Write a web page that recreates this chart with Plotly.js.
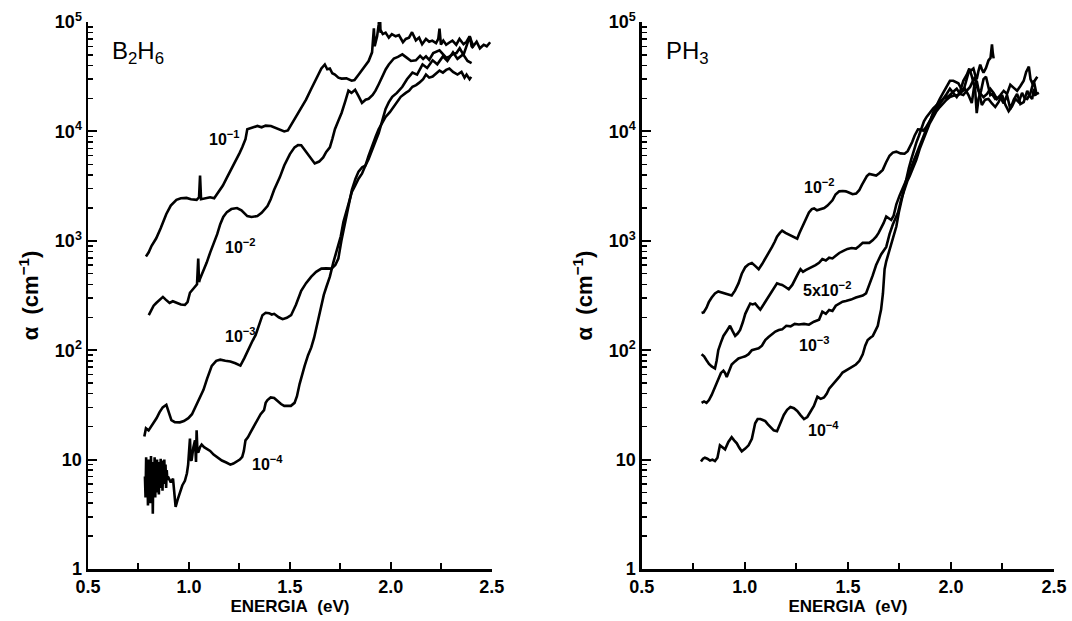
<!DOCTYPE html>
<html><head><meta charset="utf-8">
<script src="https://cdn.plot.ly/plotly-3.0.1.min.js"></script>
<style>html,body{margin:0;padding:0;background:#fff}#chart{width:1072px;height:621px}</style>
</head><body><div id="chart"></div>
<script>
// ---------- B2H6 panel ----------
const b2h6_labels = ['10<sup>−1</sup>', '10<sup>−2</sup>', '10<sup>−3</sup>', '10<sup>−4</sup>'];
const b2h6_labelE = [1.178, 1.255, 1.254, 1.389];
const b2h6_labelA = [8700, 890, 137, 9.4];

const b2h6_E1 = [
0.787,0.800,0.815,0.838,0.860,0.888,0.910,0.938,0.960,0.988,
1.010,1.038,1.050,1.055,1.060,1.080,1.105,1.125,1.147,1.168,
1.188,1.210,1.230,1.250,1.264,1.280,1.289,1.310,1.339,1.360,
1.380,1.406,1.430,1.450,1.472,1.490,1.506,1.530,1.556,1.580,
1.606,1.630,1.656,1.673,1.685,1.698,1.710,1.723,1.740,1.756,
1.780,1.806,1.820,1.840,1.855,1.873,1.890,1.907,1.912,1.916,
1.920,1.932,1.940,1.945,1.949,1.953,1.960,1.974,1.990,2.005,
2.024,2.040,2.060,2.074,2.090,2.105,2.124,2.140,2.155,2.174,
2.190,2.205,2.224,2.235,2.241,2.248,2.260,2.274,2.290,2.305,
2.324,2.340,2.360,2.375,2.390,2.408,2.425,2.441,2.460,2.475,
2.492];
const b2h6_A1 = [
719,780,900,1054,1300,1757,2100,2366,2450,2468,
2400,2366,2500,3944,2400,2450,2500,2450,2800,3200,
3780,4500,5310,6300,7150,8500,10480,10800,11220,10900,
11300,11220,10800,10300,10000,10200,11400,13500,16040,19500,
24560,30000,37600,40900,37000,37600,34000,33100,31000,30400,
30500,29100,29500,33000,36000,39200,44000,52800,70000,87500,
60000,74000,95000,129000,80000,82000,77600,80000,72000,77600,
74000,76000,65300,70000,72000,80700,68000,72000,62700,70000,
66000,67600,64000,70000,87000,62000,67600,62000,65000,67600,
62000,70000,62700,66000,74000,60000,66000,57500,62000,60000,
65300];

const b2h6_E2 = [
0.801,0.815,0.825,0.838,0.850,0.871,0.885,0.904,0.920,0.938,
0.960,0.980,0.993,1.005,1.018,1.030,1.040,1.046,1.050,1.055,
1.070,1.088,1.105,1.122,1.140,1.155,1.170,1.188,1.210,1.238,
1.260,1.289,1.310,1.339,1.360,1.389,1.405,1.422,1.450,1.472,
1.500,1.523,1.540,1.556,1.575,1.590,1.610,1.623,1.645,1.665,
1.680,1.698,1.710,1.723,1.740,1.756,1.775,1.790,1.805,1.823,
1.840,1.857,1.875,1.890,1.910,1.924,1.940,1.957,1.975,1.990,
2.005,2.015,2.035,2.057,2.080,2.100,2.124,2.145,2.160,2.174,
2.190,2.210,2.241,2.260,2.275,2.291,2.310,2.325,2.341,2.360,
2.375,2.391,2.400,2.408];
const b2h6_A2 = [
209,240,255,270,285,307,290,270,280,270,
262,259,275,335,360,380,400,689,420,450,
520,632,780,927,1150,1420,1650,1830,1950,1995,
1900,1683,1650,1683,1800,2080,2400,2925,3800,4875,
6200,7150,7500,7460,6700,6030,5500,5090,5300,5780,
6500,7150,8500,10470,12500,14730,19000,23550,22500,24000,
21000,18200,19500,19870,21500,23550,27000,31700,37000,40900,
44000,46400,48000,50600,47000,44000,44600,49000,46000,48500,
45000,52000,55000,50000,47000,48500,51000,52000,57500,50000,
62000,74000,60000,57500];

const b2h6_E3 = [
0.779,0.787,0.800,0.821,0.840,0.854,0.870,0.888,0.898,0.913,
0.930,0.955,0.975,0.997,1.015,1.030,1.050,1.072,1.090,1.113,
1.135,1.155,1.180,1.205,1.230,1.255,1.275,1.297,1.315,1.330,
1.345,1.364,1.380,1.397,1.410,1.422,1.445,1.464,1.485,1.506,
1.530,1.556,1.580,1.606,1.630,1.656,1.680,1.706,1.725,1.740,
1.755,1.773,1.790,1.807,1.825,1.840,1.858,1.874,1.890,1.907,
1.925,1.940,1.957,1.974,1.990,2.007,2.030,2.057,2.080,2.107,
2.130,2.157,2.180,2.207,2.230,2.258,2.280,2.308,2.330,2.358,
2.380,2.400];
const b2h6_A3 = [
16.3,19.3,18.5,21,24,27,30,31.7,28,22.9,
22,21.9,22.5,23.9,26,29.6,35,43.4,55,72,
80,82,80,78.7,76,72.3,85,106,122,137,
165,209,220,218,212,215,200,192,198,209,
260,349,410,470,520,557,560,557,600,689,
1000,1482,2100,2925,3700,4290,4700,4875,5600,6850,
8200,9640,12500,16050,18500,20700,22500,25600,30000,34500,
33000,40900,38000,44600,41000,48500,44000,52800,46000,50600,
44000,42000];

const b2h6_E4 = [
0.782,0.785,0.788,0.791,0.794,0.797,0.800,0.803,0.806,0.809,
0.812,0.815,0.818,0.821,0.824,0.827,0.830,0.833,0.836,0.839,
0.842,0.845,0.848,0.851,0.854,0.857,0.860,0.863,0.866,0.869,
0.872,0.875,0.878,0.881,0.884,0.887,0.890,0.893,0.896,0.900,
0.910,0.921,0.928,0.934,0.944,0.954,0.967,0.980,0.990,0.996,
1.000,1.005,1.009,1.013,1.022,1.030,1.035,1.038,1.042,1.046,
1.055,1.063,1.075,1.088,1.105,1.122,1.140,1.163,1.185,1.205,
1.220,1.239,1.252,1.264,1.272,1.280,1.292,1.305,1.320,1.339,
1.355,1.372,1.380,1.389,1.405,1.422,1.440,1.456,1.472,1.489,
1.505,1.523,1.535,1.548,1.560,1.573,1.590,1.606,1.620,1.631,
1.645,1.656,1.668,1.681,1.698,1.715,1.728,1.740,1.752,1.765,
1.778,1.790,1.807,1.823,1.840,1.857,1.874,1.890,1.907,1.925,
1.940,1.957,1.974,1.995,2.015,2.030,2.049,2.074,2.090,2.107,
2.125,2.141,2.160,2.174,2.190,2.207,2.225,2.241,2.258,2.274,
2.290,2.308,2.330,2.350,2.365,2.375,2.390,2.398];
const b2h6_A4 = [
7,4.5,10.5,5,9,3.8,10,5.5,8.5,4,
10.8,5,9.5,3.2,9,5.5,10.5,4.5,8,5,
10,6,9.5,4.8,9,5.5,10.2,6,9.8,5.2,
8.5,6.5,10,6,9,5.5,8,6.5,7,6.7,
6.2,6.7,5.0,3.7,4.3,5.0,5.8,6.4,7.5,9.0,
12,15.6,10,9.8,13,15,9.5,18.5,12,11.6,
13,13.7,13,12.6,12,11.1,10.5,9.8,9.4,9.0,
9.2,9.6,10,10.6,12,15,16,17.7,20,22.9,
26,28.3,33,35,37,36.6,34,32.2,31,30.8,
31,33,38,49,60,72,90,106,130,162,
210,270,320,380,470,632,760,889,1100,1482,
1800,2270,2800,3185,3700,4110,4875,6000,7460,9000,
10490,12000,13550,15000,16750,18500,20700,22500,23500,25600,
26500,27900,30000,33100,31000,31700,34000,36000,34500,36500,
37600,35000,33100,35000,31000,33100,30000,31500];

// ---------- PH3 panel ----------
const ph3_labels = ['10<sup>−2</sup>', '5x10<sup>−2</sup>', '10<sup>−3</sup>', '10<sup>−4</sup>'];
const ph3_labelE = [1.36, 1.397, 1.34, 1.38];
const ph3_labelA = [3160, 360, 114, 19];

const ph3_E1 = [
0.790,0.800,0.814,0.825,0.839,0.855,0.871,0.888,0.904,0.920,
0.936,0.952,0.969,0.985,1.002,1.018,1.034,1.050,1.067,1.083,
1.099,1.115,1.132,1.145,1.156,1.170,1.181,1.197,1.213,1.235,
1.254,1.265,1.278,1.295,1.311,1.325,1.336,1.350,1.368,1.385,
1.401,1.410,1.425,1.440,1.458,1.475,1.490,1.507,1.523,1.540,
1.555,1.568,1.580,1.592,1.604,1.620,1.637,1.652,1.669,1.685,
1.702,1.718,1.735,1.755,1.775,1.790,1.800,1.812,1.824,1.833,
1.840,1.852,1.865,1.878,1.890,1.902,1.914,1.930,1.946,1.962,
1.979,1.995,2.011,2.024,2.036,2.048,2.060,2.072,2.085,2.097,
2.109,2.117,2.125,2.134,2.142,2.150,2.158,2.170,2.182,2.192,
2.199,2.203,2.207];
const ph3_A1 = [
219,222,245,275,303,330,344,335,330,322,
316,350,408,500,574,610,626,590,550,610,
681,780,879,980,1089,1180,1238,1180,1137,1080,
1044,1180,1348,1600,1816,1950,1977,1900,1950,1990,
2100,2200,2345,2650,2830,2850,2830,2750,2666,2700,
2900,3250,3593,3900,4083,4000,3950,4150,4450,5200,
5995,6400,6530,6300,6250,6600,7110,8000,9180,9900,
10440,10400,10170,10800,12000,12900,15000,17400,19800,22500,
26000,29000,29000,28000,27500,25000,23500,28000,34400,36000,
37600,33000,30000,36000,40800,37000,34400,38000,44500,47000,
62500,52000,46500];

const ph3_E2 = [
0.790,0.802,0.814,0.826,0.839,0.847,0.855,0.863,0.871,0.884,
0.896,0.912,0.928,0.940,0.953,0.965,0.977,0.990,1.002,1.014,
1.026,1.038,1.050,1.062,1.075,1.087,1.099,1.115,1.132,1.144,
1.156,1.168,1.181,1.197,1.213,1.230,1.246,1.258,1.270,1.282,
1.295,1.311,1.327,1.343,1.360,1.376,1.393,1.409,1.425,1.441,
1.458,1.478,1.498,1.518,1.539,1.555,1.572,1.588,1.604,1.620,
1.637,1.649,1.661,1.673,1.686,1.698,1.710,1.722,1.735,1.751,
1.767,1.783,1.800,1.816,1.832,1.848,1.865,1.881,1.897,1.914,
1.930,1.946,1.962,1.979,1.995,2.011,2.028,2.044,2.060,2.076,
2.093,2.105,2.117,2.125,2.134,2.146,2.158,2.175,2.191,2.207,
2.223,2.240,2.256,2.272,2.288,2.305,2.321,2.337,2.353,2.365,
2.378,2.386,2.394,2.406,2.419];
const ph3_A2 = [
92,88,81,75,71,69,68,80,100,118,
135,150,167,150,135,142,153,180,215,240,
267,262,267,250,235,255,278,310,344,380,
408,400,395,378,360,395,445,500,550,520,
540,560,574,600,630,681,660,700,690,735,
774,810,843,860,850,895,958,960,958,1010,
1089,1180,1291,1450,1667,1600,1550,1700,2155,2600,
3030,3600,4265,5200,6250,7400,8790,10500,12380,14500,
16000,18000,19800,20500,21500,23000,24500,22000,21500,23500,
25500,28500,31600,26000,23500,21800,20600,22000,24500,22500,
19800,21500,23500,22000,26700,25000,23500,26000,29000,35000,
39100,30000,27800,29000,31600];

const ph3_E3 = [
0.790,0.802,0.814,0.826,0.839,0.855,0.871,0.884,0.896,0.904,
0.912,0.924,0.936,0.952,0.969,0.985,1.002,1.018,1.034,1.050,
1.067,1.083,1.099,1.115,1.132,1.148,1.165,1.181,1.201,1.222,
1.242,1.262,1.287,1.311,1.335,1.360,1.376,1.393,1.409,1.425,
1.441,1.458,1.474,1.490,1.515,1.539,1.555,1.572,1.588,1.604,
1.620,1.637,1.661,1.686,1.702,1.718,1.730,1.743,1.759,1.775,
1.788,1.800,1.816,1.832,1.848,1.865,1.881,1.897,1.914,1.930,
1.946,1.962,1.979,1.995,2.011,2.036,2.052,2.068,2.085,2.101,
2.113,2.125,2.138,2.150,2.166,2.182,2.199,2.215,2.231,2.248,
2.264,2.280,2.297,2.313,2.329,2.345,2.358,2.370,2.386,2.402,
2.415,2.427];
const ph3_A3 = [
33,34,33,35,39,46,55,62,65,62,
57,66,74,79,84,86,88,92,100,102,
104,110,124,132,141,148,153,155,167,165,
174,172,174,171,182,190,225,215,233,228,
255,265,278,282,290,303,310,316,330,391,
480,600,750,880,1150,1407,1600,1816,2400,3030,
3500,3915,4600,5510,6900,8430,10000,11860,13500,15300,
16700,18150,19500,20650,21200,21550,22800,24500,21500,18150,
26000,29000,22000,17400,19500,19800,18000,16700,18500,21500,
17500,15300,17000,19800,18500,22500,20000,19800,22500,29000,
22000,22500];

const ph3_E4 = [
0.787,0.797,0.806,0.818,0.831,0.843,0.855,0.867,0.879,0.892,
0.904,0.920,0.936,0.948,0.961,0.973,0.985,1.002,1.018,1.034,
1.050,1.062,1.075,1.087,1.099,1.112,1.124,1.140,1.156,1.172,
1.189,1.205,1.221,1.238,1.254,1.270,1.287,1.303,1.319,1.335,
1.352,1.368,1.384,1.397,1.409,1.425,1.441,1.458,1.474,1.490,
1.507,1.523,1.539,1.556,1.572,1.584,1.596,1.609,1.621,1.633,
1.645,1.653,1.661,1.670,1.678,1.686,1.698,1.710,1.722,1.735,
1.747,1.759,1.771,1.783,1.796,1.808,1.820,1.832,1.845,1.857,
1.869,1.881,1.897,1.914,1.930,1.946,1.962,1.979,1.995,2.011,
2.028,2.044,2.060,2.077,2.089,2.101,2.109,2.117,2.125,2.134,
2.146,2.158,2.170,2.182,2.191,2.199,2.215,2.239,2.256,2.272,
2.288,2.305,2.321,2.337,2.353,2.370,2.382,2.394,2.402,2.410];
const ph3_A4 = [
9.6,10.2,10.4,10.2,9.8,10.0,9.7,10.4,13.5,13.0,
12.4,14.5,16.0,15.0,14.1,12.8,11.9,12.6,13.5,15.5,
21.5,23.5,23.5,23.0,22.5,21.0,19.8,18.5,18.2,21.5,
25.6,28.5,30.3,29.5,27.8,25.5,23.5,24.5,27.5,31.0,
37.5,35.9,37.0,40.0,44.5,48.0,52.7,57.0,62.5,65.0,
68.0,70.0,74.0,80.0,91.8,110,124,130,135,150,
167,200,235,330,550,650,774,900,1089,1350,
1816,2300,3030,3800,4645,5600,6810,7900,9180,10600,
12380,13500,14800,16200,17400,18500,19800,22000,24500,22500,
20600,23000,29000,33000,37500,32000,27800,24500,14700,20000,
23500,30000,31600,26000,21500,22000,19800,20500,18000,21500,
16000,19500,22000,17800,18500,23500,21000,19800,24500,21000];

// ---------- styling ----------
const fontFam = 'Liberation Sans Narrow, Arial Narrow, Liberation Sans, Arial, sans-serif';
const minorY = [];
for (let d = 0; d < 5; d++) for (let k = 2; k <= 9; k++) minorY.push(k * Math.pow(10, d));

function line(E, A, xa, ya) {
  return {x: E, y: A, xaxis: xa, yaxis: ya, type: 'scatter', mode: 'lines',
          line: {color: '#000', width: 2.6}, hoverinfo: 'skip', showlegend: false};
}
const data = [
  line(b2h6_E1, b2h6_A1, 'x', 'y'), line(b2h6_E2, b2h6_A2, 'x', 'y'),
  line(b2h6_E3, b2h6_A3, 'x', 'y'), line(b2h6_E4, b2h6_A4, 'x', 'y'),
  line(ph3_E1, ph3_A1, 'x2', 'y2'), line(ph3_E2, ph3_A2, 'x2', 'y2'),
  line(ph3_E3, ph3_A3, 'x2', 'y2'), line(ph3_E4, ph3_A4, 'x2', 'y2')
];

const tickF = {family: fontFam, size: 18, color: '#000', weight: 'bold'};
function xax(dom, anchor) {
  return {domain: dom, anchor: anchor, range: [0.5, 2.5],
    tickvals: [0.5, 1, 1.5, 2, 2.5], ticktext: ['0.5', '1.0', '1.5', '2.0', '2.5'],
    ticks: 'inside', ticklen: 7, tickwidth: 2, tickcolor: '#000',
    minor: {tickvals: [0.75, 1.25, 1.75, 2.25], ticks: 'inside', ticklen: 6, tickwidth: 2, tickcolor: '#000'},
    showline: true, linewidth: 2.5, linecolor: '#000', showgrid: false, zeroline: false,
    tickfont: tickF, automargin: false,
    title: {text: 'ENERGIA&nbsp;&nbsp;(eV)', font: {family: fontFam, size: 17, color: '#000', weight: 'bold'}, standoff: 4}};
}
function yax(anchor) {
  return {domain: [0, 1], anchor: anchor, type: 'log', range: [0, 5],
    tickvals: [1, 10, 100, 1000, 10000, 100000],
    ticktext: ['1', '10', '10<sup>2</sup>', '10<sup>3</sup>', '10<sup>4</sup>', '10<sup>5</sup>'],
    ticks: 'inside', ticklen: 9, tickwidth: 2, tickcolor: '#000',
    minor: {tickvals: minorY, ticks: 'inside', ticklen: 5, tickwidth: 1.5, tickcolor: '#000'},
    showline: true, linewidth: 2.5, linecolor: '#000', showgrid: false, zeroline: false,
    tickfont: tickF, automargin: false,
    title: {text: 'α&nbsp;&nbsp;(cm<sup>−1</sup>)', font: {family: fontFam, size: 22, color: '#000', weight: 'bold'}, standoff: 10}};
}

const annotations = [];
const labF = {family: fontFam, size: 16, color: '#000', weight: 'bold'};
b2h6_labels.forEach((t, i) => annotations.push({xref: 'x', yref: 'y', x: b2h6_labelE[i], y: Math.log10(b2h6_labelA[i]),
  text: t, showarrow: false, font: labF}));
ph3_labels.forEach((t, i) => annotations.push({xref: 'x2', yref: 'y2', x: ph3_labelE[i], y: Math.log10(ph3_labelA[i]),
  text: t, showarrow: false, font: labF}));
annotations.push({xref: 'x domain', yref: 'y domain', x: 0.055, y: 0.945, xanchor: 'left', yanchor: 'middle',
  text: 'B<sub>2</sub>H<sub>6</sub>', showarrow: false, font: {family: 'Liberation Sans, Arial, sans-serif', size: 24, color: '#000'}});
annotations.push({xref: 'x2 domain', yref: 'y2 domain', x: 0.055, y: 0.945, xanchor: 'left', yanchor: 'middle',
  text: 'PH<sub>3</sub>', showarrow: false, font: {family: 'Liberation Sans, Arial, sans-serif', size: 24, color: '#000'}});

const layout = {
  width: 1072, height: 621,
  margin: {l: 88, r: 18, t: 22, b: 52},
  paper_bgcolor: '#fff', plot_bgcolor: '#fff',
  showlegend: false,
  xaxis: xax([0, 0.418], 'y'),
  yaxis: yax('x'),
  xaxis2: xax([0.5733, 1], 'y2'),
  yaxis2: yax('x2'),
  annotations: annotations
};

Plotly.newPlot('chart', data, layout, {displayModeBar: false, staticPlot: true});
</script>
</body></html>
